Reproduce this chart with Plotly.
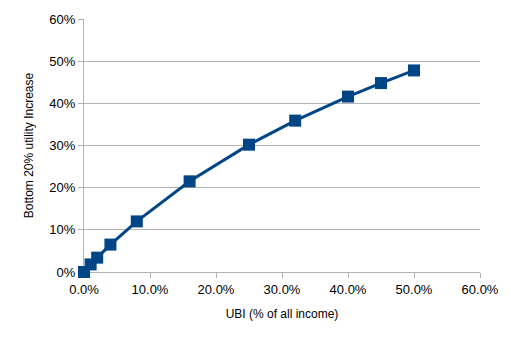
import plotly.graph_objects as go

# UBI share of all income (fraction) vs. utility increase for bottom 20%
ubi_share = [0.0, 0.01, 0.02, 0.04, 0.08, 0.16, 0.25, 0.32, 0.40, 0.45, 0.50]
utility_increase = [0.0, 0.018, 0.034, 0.065, 0.12, 0.215, 0.302, 0.359, 0.416, 0.448, 0.478]

x_ticks = [0.0, 0.1, 0.2, 0.3, 0.4, 0.5, 0.6]
y_ticks = [0.0, 0.1, 0.2, 0.3, 0.4, 0.5, 0.6]

blue = "#004586"
grid = "#b3b3b3"
font = dict(family="Liberation Sans, Arial, sans-serif", size=13, color="#000000")

fig = go.Figure(
    go.Scatter(
        x=ubi_share,
        y=utility_increase,
        mode="lines+markers",
        line=dict(color=blue, width=3),
        marker=dict(symbol="square", size=12, color=blue, line=dict(width=0)),
        cliponaxis=False,
    )
)

fig.update_layout(
    width=511,
    height=341,
    margin=dict(l=84, r=29, t=15, b=69),
    paper_bgcolor="white",
    plot_bgcolor="white",
    showlegend=False,
    font=font,
)

fig.update_xaxes(
    range=[0, 0.6],
    tickvals=x_ticks,
    tickformat=".1%",
    showgrid=False,
    showline=True,
    linecolor=grid,
    linewidth=1,
    ticks="outside",
    ticklen=5,
    tickcolor=grid,
    zeroline=False,
    layer="below traces",
    title=dict(text="UBI (% of all income)", font=dict(size=12), standoff=14),
    tickfont=dict(size=13),
)

fig.update_yaxes(
    range=[0, 0.6],
    tickvals=y_ticks,
    tickformat=".0%",
    showgrid=True,
    gridcolor=grid,
    gridwidth=1,
    showline=True,
    linecolor=grid,
    linewidth=1,
    ticks="outside",
    ticklen=5,
    tickcolor=grid,
    zeroline=False,
    layer="below traces",
    title=dict(text="Bottom 20% utility Increase", font=dict(size=12), standoff=13),
    tickfont=dict(size=13),
)

fig.write_html("out.html")
